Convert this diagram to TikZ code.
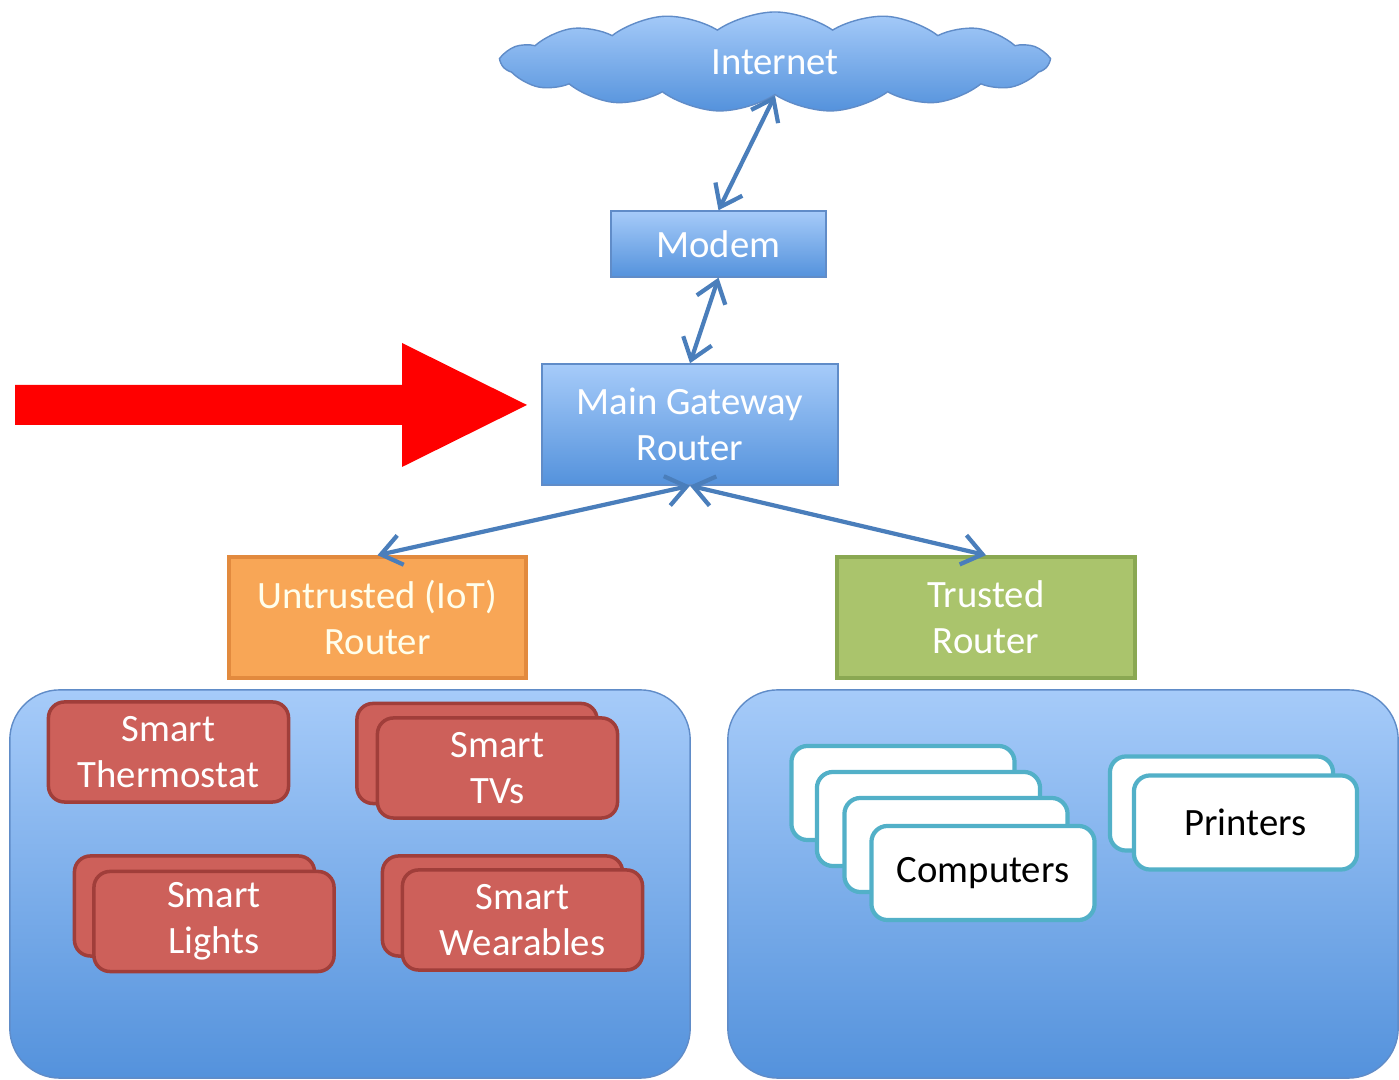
\documentclass[tikz,border=0pt]{standalone}
\usepackage{fontspec}
\setmainfont{Carlito}
\usetikzlibrary{shapes.symbols,arrows.meta}

\definecolor{skytop}{RGB}{166,203,249}
\definecolor{skybot}{RGB}{84,146,220}
\definecolor{skyedge}{RGB}{96,140,200}
\definecolor{linkblue}{RGB}{74,126,187}
\definecolor{iotorange}{RGB}{248,166,86}
\definecolor{iotorangeedge}{RGB}{226,138,62}
\definecolor{trustgreen}{RGB}{170,196,108}
\definecolor{trustgreenedge}{RGB}{138,168,82}
\definecolor{devred}{RGB}{205,96,90}
\definecolor{devrededge}{RGB}{160,62,58}
\definecolor{pcedge}{RGB}{82,176,200}

\tikzset{
  netbox/.style={draw=skyedge, top color=skytop, bottom color=skybot, text=white,
    align=center, inner sep=0pt, font=\fontsize{11}{13}\selectfont},
  zone/.style={draw=skyedge, rounded corners=5mm, top color=skytop, bottom color=skybot,
    minimum width=6.8cm, minimum height=3.88cm},
  devbox/.style={draw=devrededge, line width=1pt, fill=devred, rounded corners=1.6mm, text=white,
    align=center, minimum width=2.4cm, minimum height=1.0cm, inner sep=0pt,
    font=\fontsize{11}{13}\selectfont},
  pcbox/.style={draw=pcedge, line width=1.2pt, fill=white, rounded corners=1.6mm,
    minimum width=2.23cm, minimum height=0.94cm, inner sep=0pt,
    font=\fontsize{11}{13}\selectfont},
  link/.style={draw=linkblue, line width=1.2pt,
    {Straight Barb[length=2mm,width=3mm]}-{Straight Barb[length=2mm,width=3mm]}}
}

\begin{document}
\begin{tikzpicture}[x=0.01cm, y=-0.01cm]
    \useasboundingbox[fill=white] (0,0) rectangle (1399,1080);

    % internet, modem, gateway
    \node[netbox, cloud, cloud puffs=15, cloud puff arc=70, aspect=5.4,
          minimum width=5.46cm, minimum height=1.0cm] (internet) at (775,62) {Internet};
    \node[netbox, minimum width=2.15cm, minimum height=0.66cm] (modem) at (718.5,244) {Modem};
    \node[netbox, minimum width=2.96cm, minimum height=1.21cm] (gateway) at (690,424.5) {Main Gateway\\Router};

    \node[netbox, draw=iotorangeedge, top color=iotorange, bottom color=iotorange, line width=1pt,
          minimum width=2.97cm, minimum height=1.21cm, text={white!92!yellow}] (iotrouter) at (377.5,617.5) {Untrusted (IoT)\\Router};
    \node[netbox, draw=trustgreenedge, top color=trustgreen, bottom color=trustgreen, line width=1pt,
          minimum width=2.98cm, minimum height=1.21cm] (trustrouter) at (986,617.5) {Trusted\\Router};

    \draw[link] (internet.south) -- (modem.north);
    \draw[link] (modem.south) -- (gateway.north);
    \draw[link] (gateway.south) -- (iotrouter.north);
    \draw[link] (gateway.south) -- (trustrouter.north);

    % red pointer
    \fill[red] (15,385) -- (402,385) -- (402,343) -- (527,405) -- (402,467) -- (402,425) -- (15,425) -- cycle;

    % zones
    \node[zone] (iotzone) at (350,884) {};
    \node[zone, minimum width=6.7cm] (trustzone) at (1063,884) {};

    % untrusted devices
    \node[devbox] (thermo) at (168.5,752) {Smart\\Thermostat};
    \node[devbox] (tvsback) at (477,753.5) {};
    \node[devbox] (tvs) at (497.5,768) {Smart\\TVs};
    \node[devbox] (lightsback) at (194.5,906) {};
    \node[devbox] (lights) at (214,921.5) {Smart\\Lights};
    \node[devbox] (wearback) at (502.5,906) {};
    \node[devbox] (wear) at (522.5,920) {Smart\\Wearables};

    % trusted devices
    \node[pcbox] (pcone) at (903,793) {};
    \node[pcbox] (pctwo) at (928.5,819) {};
    \node[pcbox] (pcthree) at (956,845) {};
    \node[pcbox] (pcs) at (983,873) {Computers};
    \node[pcbox] (printback) at (1221.5,803.5) {};
    \node[pcbox] (printers) at (1245.5,822.5) {Printers};
\end{tikzpicture}
\end{document}
